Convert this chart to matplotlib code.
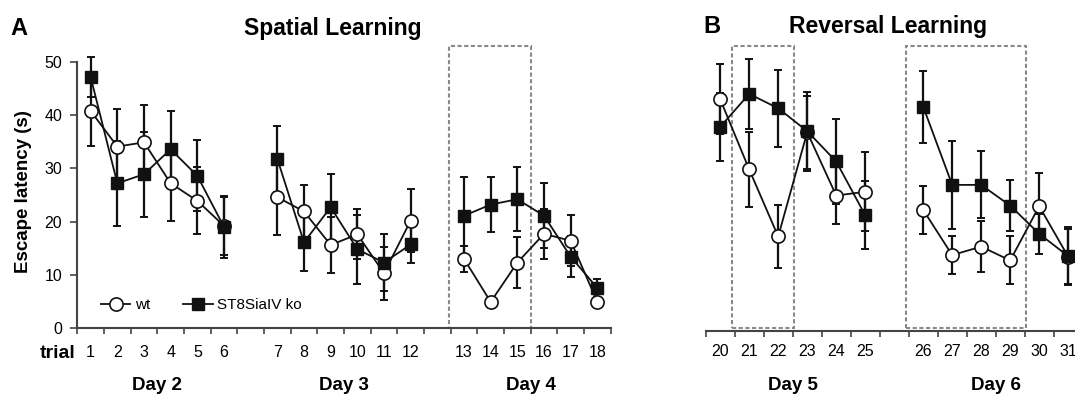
import matplotlib
matplotlib.use("Agg")
import matplotlib.pyplot as plt
from matplotlib.patches import Rectangle

plt.rcParams['font.family'] = ['Liberation Sans', 'DejaVu Sans']

# Spatial learning, trials 1-18 (days 2-4)
trials_a = list(range(1, 19))
wt_a = [40.8, 34.1, 34.9, 27.2, 23.9, 19.2, 24.6, 21.9, 15.6, 17.6, 10.3, 20.2,
        13.0, 4.9, 12.3, 17.7, 16.4, 4.9]
wt_a_err = [6.6, 7.1, 7.1, 7.1, 6.3, 5.5, 7.2, 4.9, 5.2, 4.7, 5.0, 5.9,
            2.4, 1.0, 4.8, 4.7, 4.8, 1.0]
ko_a = [47.2, 27.2, 28.9, 33.6, 28.6, 19.0, 31.8, 16.1, 22.7, 14.8, 12.3, 15.7,
        21.1, 23.2, 24.2, 21.1, 13.4, 7.5]
ko_a_err = [3.8, 8.0, 8.0, 7.1, 6.7, 5.8, 6.2, 5.3, 6.2, 6.5, 5.4, 3.5,
            7.3, 5.1, 6.0, 6.1, 3.8, 1.7]
days_a = ["Day 2", "Day 3", "Day 4"]
boxes_a = [(13, 15)]

# Reversal learning, trials 20-31 (days 5-6)
trials_b = list(range(20, 32))
wt_b = [43.0, 29.8, 17.2, 36.8, 24.9, 25.6, 22.2, 13.7, 15.3, 12.7, 22.9, 13.4]
wt_b_err = [6.6, 7.1, 5.9, 6.9, 5.4, 7.4, 4.5, 3.6, 4.8, 4.5, 6.2, 5.2]
ko_b = [37.8, 44.0, 41.3, 37.0, 31.3, 21.2, 41.6, 26.9, 26.9, 23.0, 17.7, 13.5]
ko_b_err = [6.4, 6.5, 7.2, 7.4, 8.0, 6.4, 6.8, 8.3, 6.3, 4.8, 3.7, 5.5]
days_b = ["Day 5", "Day 6"]
boxes_b = [(21, 22), (26, 29)]

PER_DAY = 6
INK = "#111111"
W, H = 1075.0, 398.0
DAY_Y = 386.0  # pixel row of the day labels


def slots(trials):
    # one empty slot between days, points centred between ticks
    out = []
    for k, _ in enumerate(trials):
        out.append(k + k // PER_DAY + 0.5)
    return out


def draw_panel(ax, trials, wt, wt_err, ko, ko_err, days, boxes, xmax, label_pad):
    pos = slots(trials)
    ax.set_xlim(0, xmax)

    for first, last in boxes:
        x0 = pos[trials.index(first)] - 0.58
        x1 = pos[trials.index(last)] + 0.53
        ax.add_patch(Rectangle((x0, 0), x1 - x0, 53, fill=False, ec="#8a8a8a",
                               lw=1.5, ls=(0, (2, 1.2)), zorder=1, clip_on=False))

    for vals, err in [(wt, wt_err), (ko, ko_err)]:
        eb = ax.errorbar(pos, vals, yerr=err, fmt='none', ecolor=INK, elinewidth=1.6,
                         capsize=3, capthick=1.4, zorder=2)
        for art in eb.get_children():
            art.set_clip_on(False)

    # axes-fraction height of the day labels
    bb = ax.get_position()
    day_frac = ((H - DAY_Y) / H - bb.y0) / bb.height

    for d in range(len(days)):
        s = slice(d * PER_DAY, (d + 1) * PER_DAY)
        ax.plot(pos[s], wt[s], '-o', color=INK, lw=1.3, mfc='white', mec=INK,
                mew=1.2, ms=9.5, zorder=3, clip_on=False)
        ax.plot(pos[s], ko[s], '-s', color=INK, lw=1.3, mfc=INK, mec=INK,
                ms=8.5, zorder=4, clip_on=False)
        centre = sum(pos[s]) / len(pos[s])
        ax.text(centre, day_frac, days[d], transform=ax.get_xaxis_transform(),
                ha='center', va='center', fontsize=13.5, fontweight='bold')

    ax.set_xticks(range(0, xmax + 1))
    ax.set_xticklabels([])
    ax.set_xticks(pos, minor=True)
    ax.set_xticklabels([str(t) for t in trials], minor=True)
    ax.tick_params(axis='x', which='major', direction='out', length=4.5, width=1.2,
                   color="#444444")
    ax.tick_params(axis='x', which='minor', length=0, pad=label_pad, labelsize=11.5)

    for side in ['top', 'right']:
        ax.spines[side].set_visible(False)
    ax.spines['bottom'].set_color("#444444")
    ax.spines['bottom'].set_linewidth(1.5)
    return pos


fig = plt.figure(figsize=(10.75, 3.98), dpi=100)
px_per_unit = 266.0 / 50

axA = fig.add_axes([77.3 / W, 70 / H, 533.4 / W, 266 / H])
axA.set_ylim(0, 50)
draw_panel(axA, trials_a, wt_a, wt_a_err, ko_a, ko_a_err, days_a, boxes_a, 20, 12.5)
axA.set_yticks(range(0, 51, 10))
axA.tick_params(axis='y', direction='out', length=5, width=1.2, color="#444444",
                labelsize=11.5, pad=6)
axA.spines['left'].set_color("#444444")
axA.spines['left'].set_linewidth(1.5)
axA.set_ylabel("Escape latency (s)", fontsize=13.5, fontweight='bold')
axA.yaxis.set_label_coords(-0.085, (328 - 191.7) / 266)

leg_handles = [
    plt.Line2D([], [], color=INK, lw=1.3, marker='o', mfc='white', mec=INK, mew=1.2, ms=9.5),
    plt.Line2D([], [], color=INK, lw=1.3, marker='s', mfc=INK, mec=INK, ms=8.5),
]
axA.legend(leg_handles, ["wt", "ST8SiaIV ko"], loc='center left',
           bbox_to_anchor=((101 - 77.3) / 533.4, (328 - 305) / 266),
           ncol=2, frameon=False, fontsize=11, handlelength=1.9, handletextpad=0.3,
           columnspacing=2.2, borderpad=0, borderaxespad=0)

b_base = 331.0
b_low = -(b_base - 328.0) / px_per_unit
axB = fig.add_axes([705.7 / W, (H - b_base) / H, 377 / W, (50 - b_low) * px_per_unit / H])
axB.set_ylim(b_low, 50)
draw_panel(axB, trials_b, wt_b, wt_b_err, ko_b, ko_b_err, days_b, boxes_b, 13, 9.5)
axB.spines['left'].set_visible(False)
axB.set_yticks([])

fig.text(76 / W, 1 - 353 / H, "trial", ha='right', va='center', fontsize=14,
         fontweight='bold')
fig.text(10 / W, 1 - 35 / H, "A", ha='left', va='baseline', fontsize=17, fontweight='bold')
fig.text(703 / W, 1 - 33 / H, "B", ha='left', va='baseline', fontsize=17, fontweight='bold')
fig.text(333 / W, 1 - 35 / H, "Spatial Learning", ha='center', va='baseline',
         fontsize=16.5, fontweight='bold')
fig.text(888 / W, 1 - 33.5 / H, "Reversal Learning", ha='center', va='baseline',
         fontsize=16.5, fontweight='bold')

fig.savefig("out.png", dpi=100)
